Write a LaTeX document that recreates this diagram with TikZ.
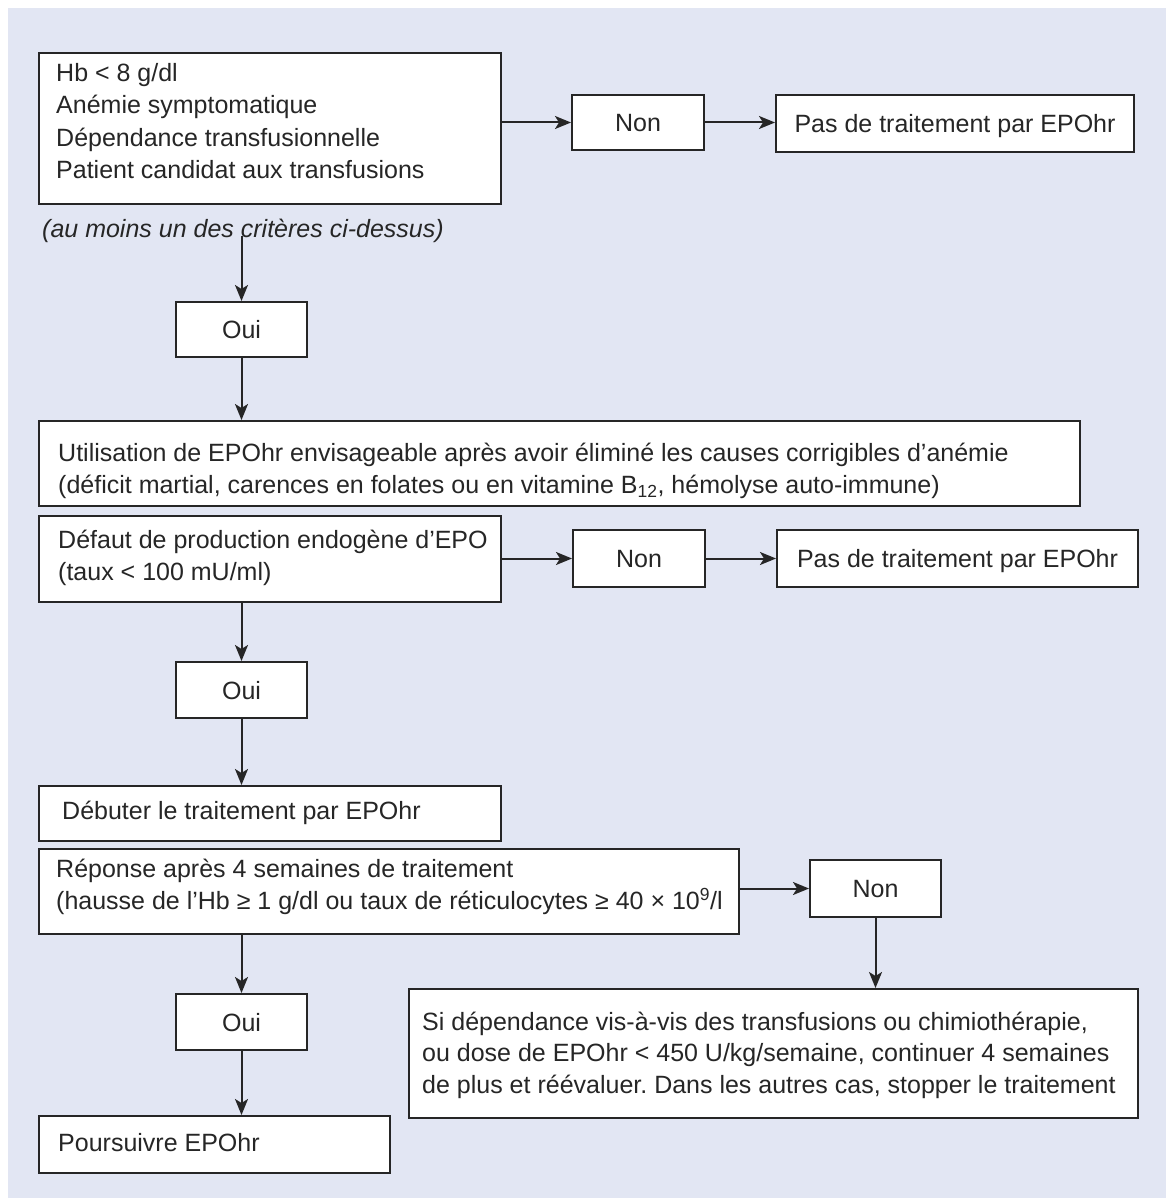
\documentclass[tikz,border=0pt]{standalone}
\usepackage{fontspec}
\setmainfont{Liberation Sans}
\usetikzlibrary{arrows.meta}
\definecolor{panel}{HTML}{E2E6F3}
\definecolor{ink}{HTML}{262626}
\newcommand{\flowfont}{\fontsize{25}{32.5}\selectfont}
\newcommand{\notefont}{\fontsize{25}{32.5}\selectfont\itshape}
\frenchspacing
\begin{document}
\begin{tikzpicture}[x=1pt,y=-1pt,
  frame/.style={draw=ink, line width=2pt, fill=white, anchor=north west, inner sep=0pt},
  choice/.style={draw=ink, line width=2pt, fill=white, anchor=center, inner sep=0pt,
                 font=\flowfont, text=ink, text height=18pt, text depth=0pt},
  txt/.style={anchor=north west, inner sep=0pt, align=left, text=ink, font=\flowfont},
  flow/.style={draw=ink, line width=2pt, -{Stealth[length=16pt,width=13pt,inset=4pt]}}]

% page and panel
\useasboundingbox (0,0) rectangle (1166,1198);
\fill[white] (0,0) rectangle (1166,1198);
\fill[panel] (8,8) rectangle (1166,1198);

% first criteria
\node[frame, minimum width=462pt, minimum height=151pt] (A) at (38,52) {};
\node[txt] (tA) at (56,81-22.75) {\strut Hb < 8 g/dl\\ Anémie symptomatique\\ Dépendance transfusionnelle\\ Patient candidat aux transfusions};
\node[txt, font=\notefont] (note) at (42,237-22.75) {\strut (au moins un des critères ci-dessus)};
\node[choice, minimum width=132pt, minimum height=55pt] (N1) at (638,122.5) {Non};
\node[choice, minimum width=358pt, minimum height=57pt] (P1) at (955,123.5) {Pas de traitement par EPOhr};
\node[choice, minimum width=131pt, minimum height=55pt] (O1) at (241.5,329.5) {Oui};

% causes corrigibles
\node[frame, minimum width=1041pt, minimum height=85pt] (U) at (38,420) {};
\node[txt] (tU) at (58,461-22.75) {\strut Utilisation de EPOhr envisageable après avoir éliminé les causes corrigibles d'anémie\\ (déficit martial, carences en folates ou en vitamine B\textsubscript{12}, hémolyse auto-immune)};

% production endogene
\node[frame, minimum width=462pt, minimum height=86pt] (D) at (38,515) {};
\node[txt] (tD) at (58,548-22.75) {\strut Défaut de production endogène d’EPO\\ (taux < 100 mU/ml)};
\node[choice, minimum width=132pt, minimum height=57pt] (N2) at (639,558.5) {Non};
\node[choice, minimum width=361pt, minimum height=57pt] (P2) at (957.5,558.5) {Pas de traitement par EPOhr};
\node[choice, minimum width=131pt, minimum height=56pt] (O2) at (241.5,690) {Oui};

% traitement
\node[frame, minimum width=462pt, minimum height=55pt] (B) at (38,785) {};
\node[txt] (tB) at (62,819-22.75) {\strut Débuter le traitement par EPOhr};

% reponse
\node[frame, minimum width=700pt, minimum height=85pt] (R) at (38,848) {};
\node[txt] (tR) at (56,877-22.75) {\strut Réponse après 4 semaines de traitement\\ (hausse de l'Hb ≥ 1 g/dl ou taux de réticulocytes ≥ 40 × 10\textsuperscript{9}/l};
\node[choice, minimum width=131pt, minimum height=57pt] (N3) at (875.5,888.5) {Non};
\node[frame, minimum width=729pt, minimum height=129pt] (S) at (408,988) {};
\node[txt, font=\fontsize{25}{31.5}\selectfont] (tS) at (422,1030-22.05) {\strut Si dépendance vis-à-vis des transfusions ou chimiothérapie,\\ ou dose de EPOhr < 450 U/kg/semaine, continuer 4 semaines\\ de plus et réévaluer. Dans les autres cas, stopper le traitement};
\node[choice, minimum width=131pt, minimum height=56pt] (O3) at (241.5,1022) {Oui};
\node[frame, minimum width=351pt, minimum height=57pt] (P) at (38,1115) {};
\node[txt] (tP) at (58,1151-22.75) {\strut Poursuivre EPOhr};

% connectors
\coordinate (nA) at (241.5,236);
\draw[flow] (A.east |- N1.west) -- (N1.west);
\draw[flow] (N1.east) -- (P1.west |- N1.east);
\draw[flow] (nA) -- (O1.north);
\draw[flow] (O1.south) -- (O1.south |- U.north);
\draw[flow] (D.east |- N2.west) -- (N2.west);
\draw[flow] (N2.east) -- (P2.west |- N2.east);
\draw[flow] (O2.north |- D.south) -- (O2.north);
\draw[flow] (O2.south) -- (O2.south |- B.north);
\draw[flow] (R.east |- N3.west) -- (N3.west);
\draw[flow] (N3.south) -- (N3.south |- S.north);
\draw[flow] (O3.north |- R.south) -- (O3.north);
\draw[flow] (O3.south) -- (O3.south |- P.north);
\end{tikzpicture}
\end{document}
